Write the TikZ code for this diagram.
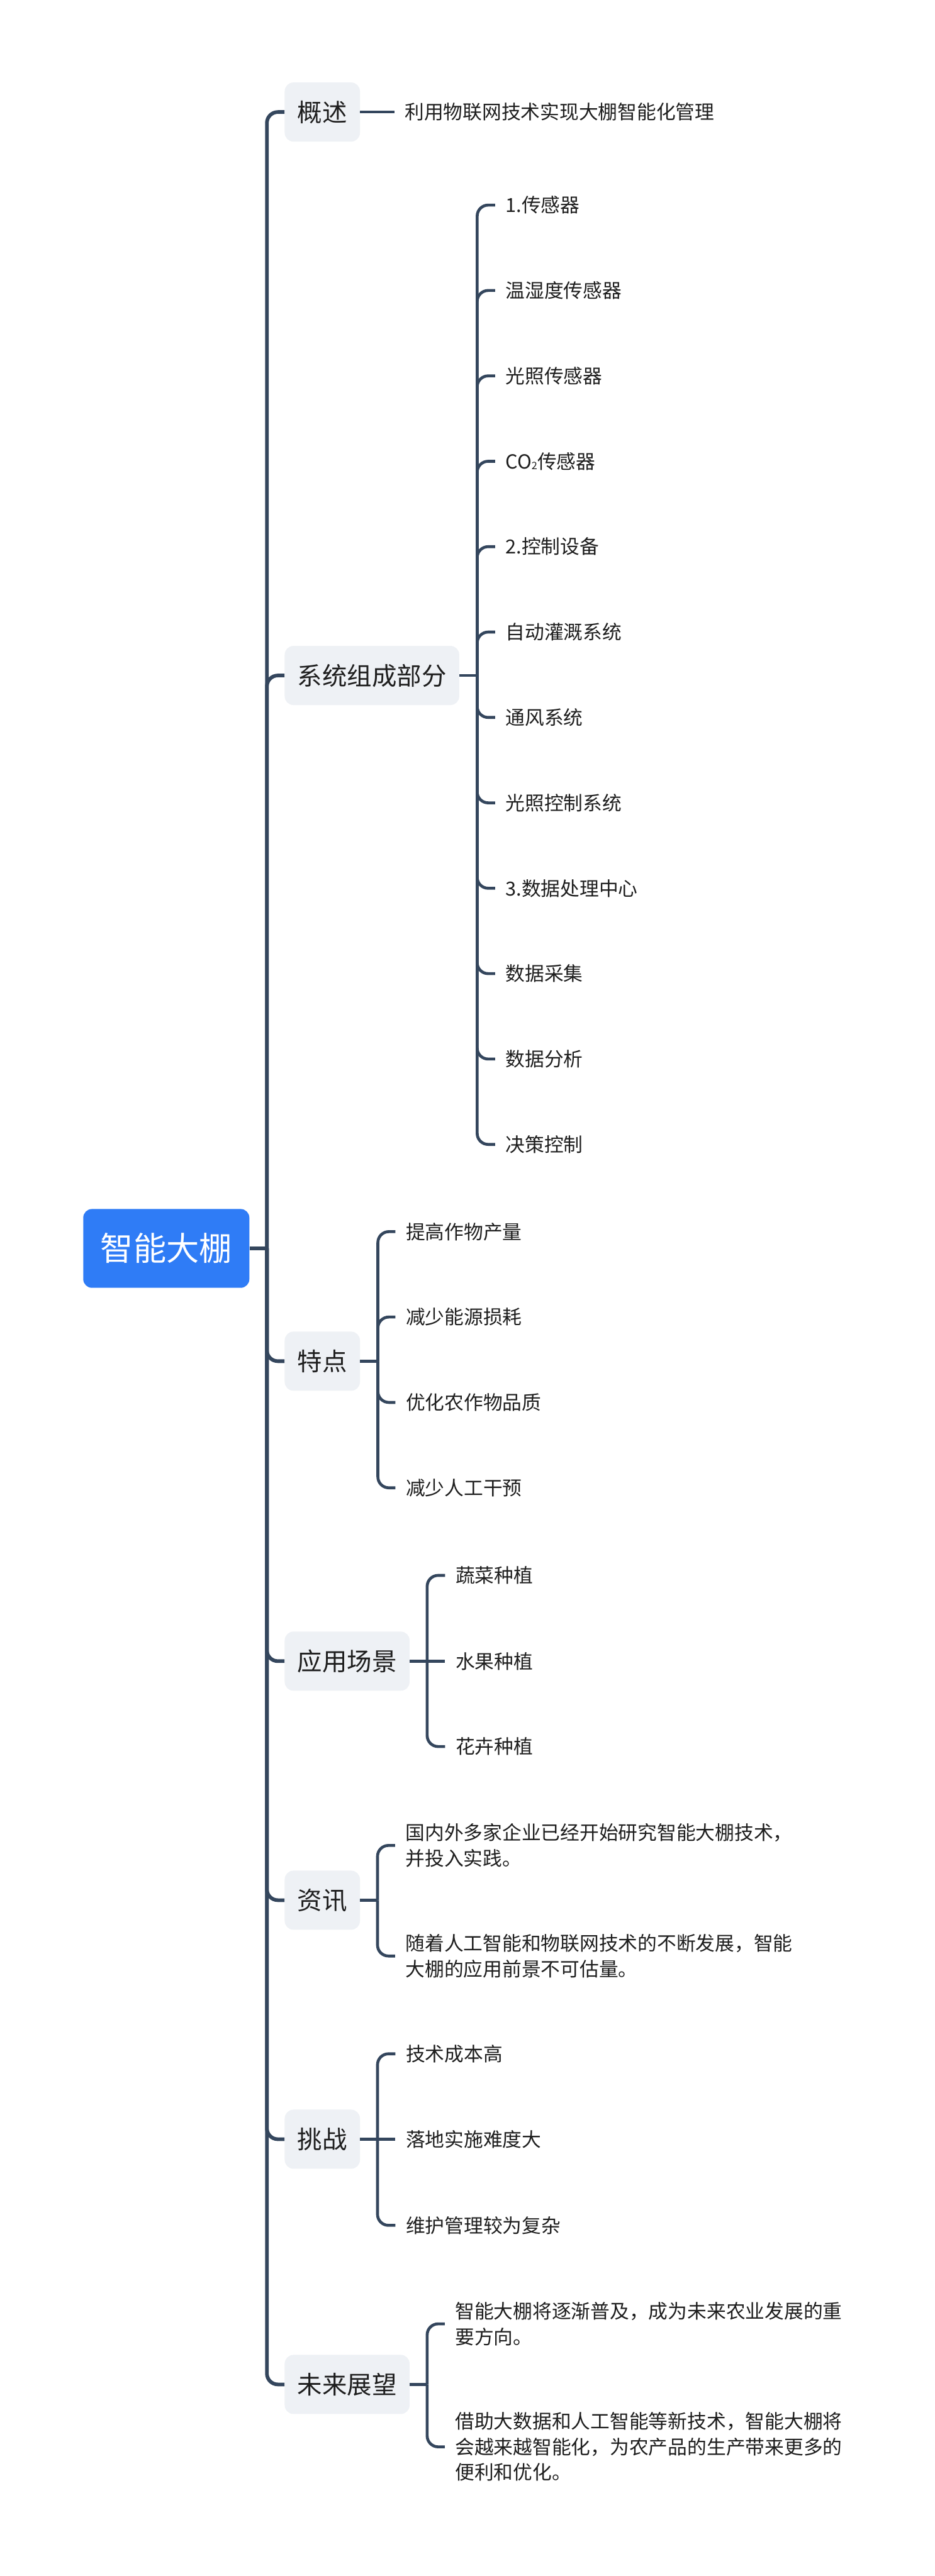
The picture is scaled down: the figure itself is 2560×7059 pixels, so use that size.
\documentclass[tikz,border=0pt]{standalone}
\usepackage{fontspec}
\setmainfont{Noto Sans CJK SC}
\definecolor{lnc}{HTML}{34465D}
\definecolor{rootblue}{HTML}{2F7CF6}
\definecolor{lvfill}{HTML}{EEF1F5}
\definecolor{txt}{HTML}{1E1E1E}
\begin{document}
\begin{tikzpicture}[x=0.25pt,y=-0.25pt,
  rootbox/.style={fill=rootblue, text=white, rounded corners=6pt, minimum width=113.75pt, minimum height=54pt, inner sep=0pt, font=\fontsize{22.5pt}{27pt}\selectfont},
  topic/.style={fill=lvfill, text=txt, rounded corners=6pt, minimum height=40.5pt, inner xsep=8.75pt, inner ysep=0pt, font=\fontsize{17pt}{20pt}\selectfont, anchor=west},
  leaf/.style={anchor=west, inner xsep=7pt, inner ysep=2pt, text=txt, font=\fontsize{13.25pt}{17.5pt}\selectfont, align=left},
  mainline/.style={draw=lnc, line width=2.5pt, rounded corners=7.5pt},
  subline/.style={draw=lnc, line width=2pt, rounded corners=7.5pt}]
\useasboundingbox (0,0) rectangle (2560,7059);
\fill[white] (0,0) rectangle (2560,7059);

% root and topics
\node[rootbox] (root) at (455.5,3421) {智能大棚};
\node[topic] (t1) at (779,307) {概述};
\node[topic] (t2) at (779,1851) {系统组成部分};
\node[topic] (t3) at (779,3730) {特点};
\node[topic] (t4) at (779,4552) {应用场景};
\node[topic] (t5) at (779,5207) {资讯};
\node[topic] (t6) at (779,5862) {挑战};
\node[topic] (t7) at (779,6534) {未来展望};

\coordinate (hub) at (731,3421);
\draw[mainline] (root.east) -- (hub);
\foreach \t in {t1,t2,t3,t4,t5,t6,t7} \draw[mainline] (hub) |- (\t.west);

% 概述
\node[leaf] (a1) at (1080,307) {利用物联网技术实现大棚智能化管理};
\draw[subline] (t1.east) -- (a1.west);

% 系统组成部分
\node[leaf] (b1) at (1356,562) {1.传感器};
\node[leaf] (b2) at (1356,796) {温湿度传感器};
\node[leaf] (b3) at (1356,1030) {光照传感器};
\node[leaf] (b4) at (1356,1264) {CO\raisebox{-0.5pt}{\fontsize{7pt}{7pt}\selectfont 2}传感器};
\node[leaf] (b5) at (1356,1498) {2.控制设备};
\node[leaf] (b6) at (1356,1732) {自动灌溉系统};
\node[leaf] (b7) at (1356,1966) {通风系统};
\node[leaf] (b8) at (1356,2200) {光照控制系统};
\node[leaf] (b9) at (1356,2434) {3.数据处理中心};
\node[leaf] (b10) at (1356,2668) {数据采集};
\node[leaf] (b11) at (1356,2902) {数据分析};
\node[leaf] (b12) at (1356,3136) {决策控制};
\coordinate (v2) at (1307,1851);
\draw[subline] (t2.east) -- (v2);
\foreach \c in {b1,b2,b3,b4,b5,b6,b7,b8,b9,b10,b11,b12} \draw[subline] (v2) |- (\c.west);

% 特点
\node[leaf] (c1) at (1083,3375) {提高作物产量};
\node[leaf] (c2) at (1083,3609) {减少能源损耗};
\node[leaf] (c3) at (1083,3843) {优化农作物品质};
\node[leaf] (c4) at (1083,4077) {减少人工干预};
\coordinate (v3) at (1035,3730);
\draw[subline] (t3.east) -- (v3);
\foreach \c in {c1,c2,c3,c4} \draw[subline] (v3) |- (\c.west);

% 应用场景
\node[leaf] (d1) at (1219,4317) {蔬菜种植};
\node[leaf] (d2) at (1219,4552) {水果种植};
\node[leaf] (d3) at (1219,4786) {花卉种植};
\coordinate (v4) at (1170,4552);
\draw[subline] (t4.east) -- (v4);
\foreach \c in {d1,d3} \draw[subline] (v4) |- (\c.west);
\draw[subline] (v4) -- (d2.west);

% 资讯
\node[leaf] (e1) at (1082,5057) {国内外多家企业已经开始研究智能大棚技术，\\并投入实践。};
\node[leaf] (e2) at (1082,5360) {随着人工智能和物联网技术的不断发展，智能\\大棚的应用前景不可估量。};
\coordinate (v5) at (1034,5207);
\draw[subline] (t5.east) -- (v5);
\foreach \c in {e1,e2} \draw[subline] (v5) |- (\c.west);

% 挑战
\node[leaf] (f1) at (1083,5628) {技术成本高};
\node[leaf] (f2) at (1083,5862) {落地实施难度大};
\node[leaf] (f3) at (1083,6098) {维护管理较为复杂};
\coordinate (v6) at (1034,5862);
\draw[subline] (t6.east) -- (v6);
\foreach \c in {f1,f3} \draw[subline] (v6) |- (\c.west);
\draw[subline] (v6) -- (f2.west);

% 未来展望
\node[leaf] (g1) at (1218,6368) {智能大棚将逐渐普及，成为未来农业发展的重\\要方向。};
\node[leaf] (g2) at (1218,6705) {借助大数据和人工智能等新技术，智能大棚将\\会越来越智能化，为农产品的生产带来更多的\\便利和优化。};
\coordinate (v7) at (1170,6534);
\draw[subline] (t7.east) -- (v7);
\foreach \c in {g1,g2} \draw[subline] (v7) |- (\c.west);
\end{tikzpicture}
\end{document}
